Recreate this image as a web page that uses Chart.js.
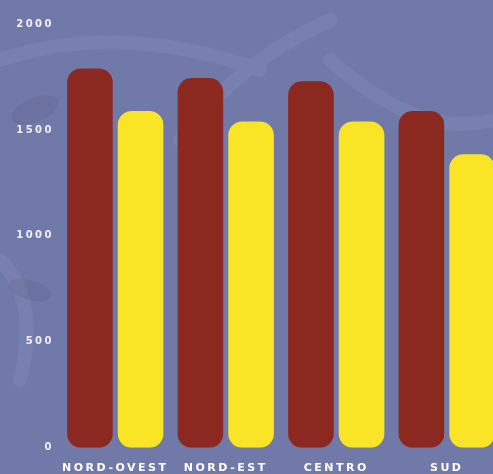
<!DOCTYPE html>
<html>
<head>
<meta charset="utf-8">
<script src="https://cdn.jsdelivr.net/npm/chart.js@4/dist/chart.umd.min.js"></script>
<style>
  html, body { margin: 0; padding: 0; overflow: hidden; background: #7179a9; }
  #wrap { width: 493px; height: 474px; overflow: hidden; }
</style>
</head>
<body>
<div id="wrap"><canvas id="chart" width="502" height="489"></canvas></div>
<script>
const categories = ['NORD-OVEST', 'NORD-EST', 'CENTRO', 'SUD'];
const seriesA = [1790, 1745, 1730, 1590];
const seriesB = [1590, 1540, 1540, 1385];

// background with some faint texture strokes
const backdrop = {
    id: 'backdrop',
    beforeDraw(chart) {
        const c = chart.ctx;
        c.save();
        c.fillStyle = '#7179a9';
        c.fillRect(0, 0, chart.width, chart.height);
        c.strokeStyle = 'rgba(150,160,205,0.18)';
        c.lineCap = 'round';
        c.lineWidth = 14;
        c.beginPath();
        c.moveTo(0, 60); c.quadraticCurveTo(120, 20, 260, 70);
        c.moveTo(180, 140); c.quadraticCurveTo(240, 60, 330, 20);
        c.moveTo(330, 60); c.quadraticCurveTo(420, 140, 493, 120);
        c.moveTo(0, 260); c.quadraticCurveTo(40, 300, 20, 380);
        c.stroke();
        c.fillStyle = 'rgba(95,85,120,0.2)';
        c.beginPath(); c.ellipse(35, 110, 25, 12, -0.4, 0, Math.PI * 2); c.fill();
        c.beginPath(); c.ellipse(30, 290, 22, 10, 0.3, 0, Math.PI * 2); c.fill();
        c.restore();
        // wide lettering like the original
        c.letterSpacing = '2.5px';
    }
};

new Chart(document.getElementById('chart').getContext('2d'), {
    type: 'bar',
    data: {
        labels: categories,
        datasets: [
            { data: seriesA, backgroundColor: '#8b2820', borderRadius: 14, borderSkipped: false },
            { data: seriesB, backgroundColor: '#f9e425', borderRadius: 14, borderSkipped: false }
        ]
    },
    options: {
        responsive: false,
        animation: false,
        layout: { padding: { top: 24, right: 0, bottom: 0, left: 0 } },
        datasets: { bar: { categoryPercentage: 0.917, barPercentage: 0.9 } },
        plugins: { legend: { display: false }, tooltip: { enabled: false } },
        scales: {
            x: {
                grid: { display: false, drawTicks: false },
                border: { display: false },
                ticks: {
                    color: '#ffffff',
                    padding: 14,
                    maxRotation: 0,
                    autoSkip: false,
                    font: { family: 'DejaVu Sans', size: 11, weight: 'bold' }
                }
            },
            y: {
                min: 0,
                max: 2000,
                grid: { display: false, drawTicks: false },
                border: { display: false },
                afterFit(scale) { scale.width = 60; },
                ticks: {
                    stepSize: 500,
                    color: '#f0f0f8',
                    padding: 6,
                    callback: v => String(v),
                    font: { family: 'DejaVu Sans', size: 10, weight: 'bold' }
                }
            }
        }
    },
    plugins: [backdrop]
});
</script>
</body>
</html>
